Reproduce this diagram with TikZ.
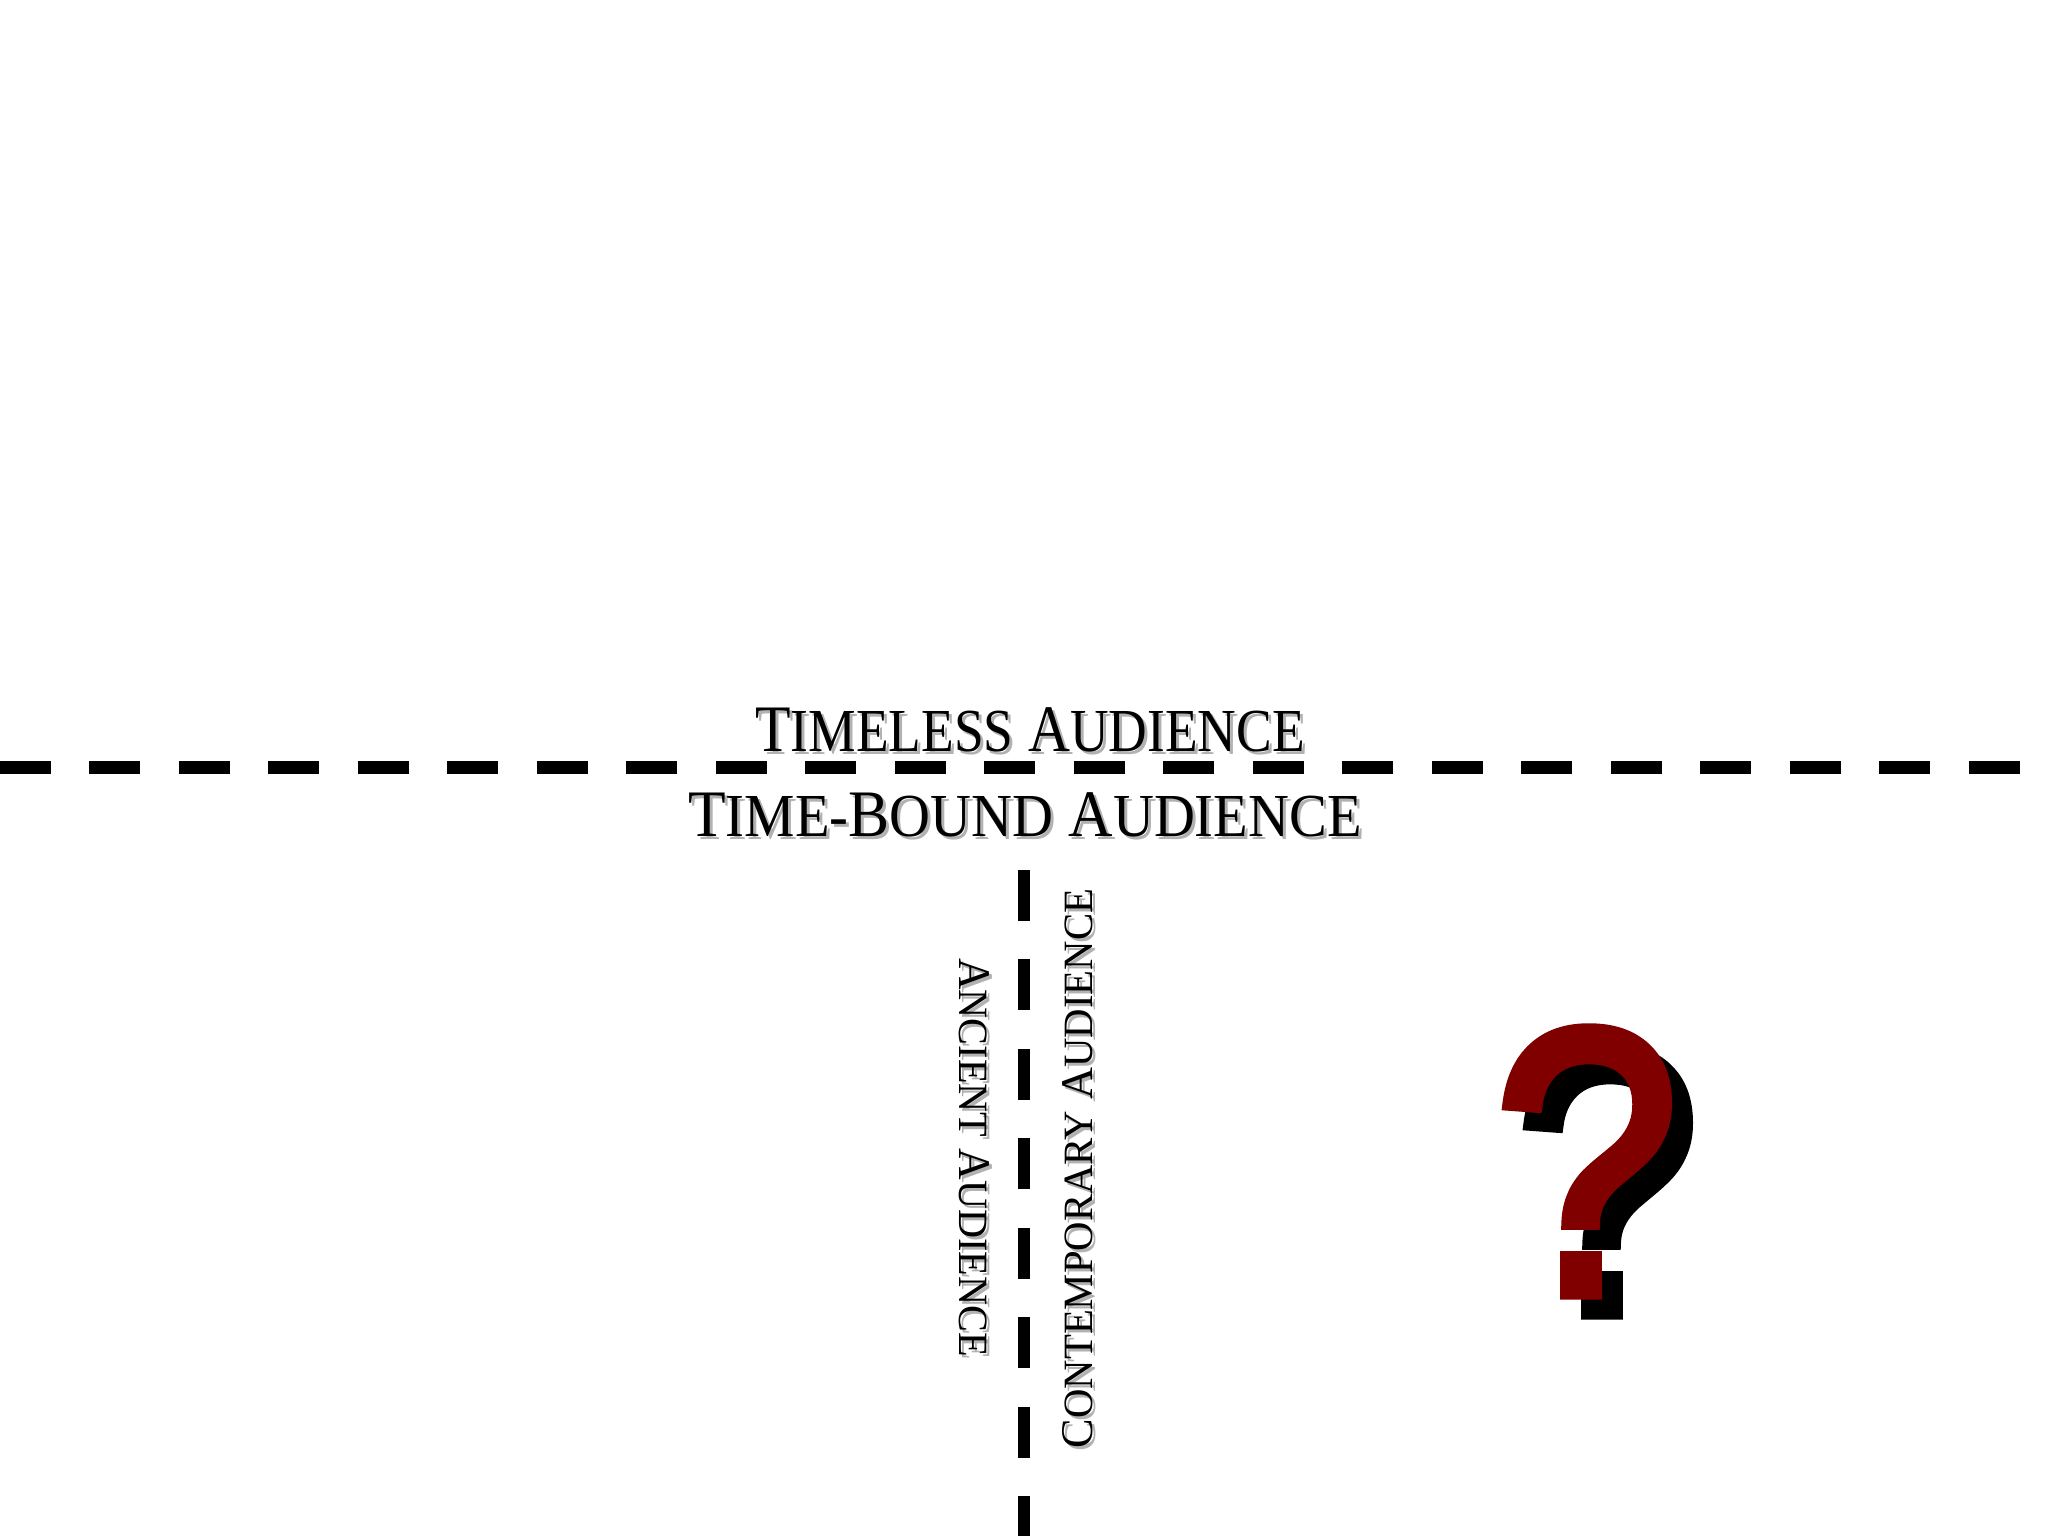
\documentclass[tikz,border=0pt]{standalone}
\usepackage{fontspec}
\usepackage{graphicx}
\setmainfont{Liberation Serif}
\newfontfamily\qmarkfont{Liberation Sans}[FakeBold=3]
\usetikzlibrary{positioning}
\definecolor{darkred}{RGB}{128,0,0}
\newcommand{\sccap}[2]{#1\scalebox{0.92}{#2}}
\newcommand{\shadowlabel}[4]{%
  \node[ghost,#3] (#1-s) at (#2) {#4};
  \node[audlabel,#3] (#1) at (#2) {#4};}
\tikzset{
audlabel/.style={inner sep=0pt, font=\fontsize{18.9}{18.9}\selectfont},
ghost/.style={audlabel, text=black!30, xshift=0.03cm, yshift=-0.03cm},
divider/.style={line width=0.125cm, dash pattern=on 0.51cm off 0.385cm},
qmark/.style={anchor=base, inner sep=0pt, xscale=0.88, transform shape, font=\qmarkfont\fontsize{108}{108}\selectfont},
}

\begin{document}
\begin{tikzpicture}
    \path[fill=white, use as bounding box] (0,0) rectangle (20.48,-15.36);

    %end points of the dividers
    \coordinate (hleft) at (0,-7.675);
    \coordinate (hright) at (20.48,-7.675);
    \coordinate (vtop) at (10.24,-8.70);
    \coordinate (vbot) at (10.24,-15.36);

    %dividers
    \draw[divider] (hleft) -- (hright);
    \draw[divider] (vtop) -- (vbot);

    %labels
    \shadowlabel{timeless}{10.30,-7.30}{xscale=0.875, transform shape}{\sccap{T}{IMELESS} \sccap{A}{UDIENCE}}
    \shadowlabel{timebound}{10.25,-8.15}{xscale=0.927, transform shape}{\sccap{T}{IME-}\sccap{B}{OUND} \sccap{A}{UDIENCE}}
    \shadowlabel{ancient}{9.74,-11.575}{rotate=-90, xscale=0.965, transform shape, font=\fontsize{12.9}{12.9}\selectfont}{\sccap{A}{NCIENT} \sccap{A}{UDIENCE}}
    \shadowlabel{contemporary}{10.775,-11.685}{rotate=90, xscale=0.977, transform shape, font=\fontsize{12.9}{12.9}\selectfont}{\sccap{C}{ONTEMPORARY} \sccap{A}{UDIENCE}}

    %question mark and its shadow
    \node[qmark, text=black] (qshadow) at (16.075,-13.14) {?};
    \node[qmark, text=darkred] (question) at (15.865,-12.94) {?};

\end{tikzpicture}
\end{document}
